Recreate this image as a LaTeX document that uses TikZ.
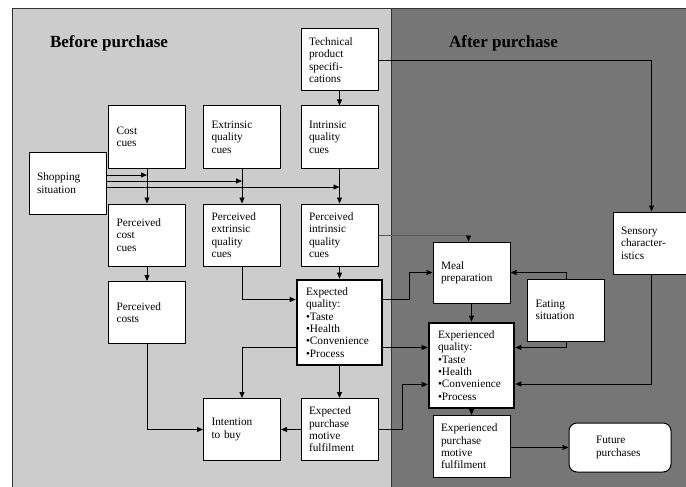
\documentclass[tikz,border=0pt]{standalone}
\usepackage{fontspec}
\setmainfont{Liberation Serif}
\usepackage{xcolor}
\usetikzlibrary{positioning,arrows.meta}
\definecolor{mbefore}{RGB}{204,204,204}
\definecolor{mafter}{RGB}{118,118,118}

\begin{document}
\begin{tikzpicture}[x=1pt, y=-1pt,
  box/.style={rectangle, draw, fill=white, line width=1pt, font=\fontsize{11.3}{12.4}\selectfont, align=left, text width=61pt, inner xsep=8pt, inner ysep=0pt, minimum width=77pt, minimum height=62pt},
  thickbox/.style={box, line width=2.6pt, minimum width=85pt, minimum height=85pt, text width=67pt},
  conn/.style={line width=0.9pt, -{Triangle[length=6pt,width=5pt]}}]
\useasboundingbox (0,0) rectangle (686,487);
\clip (0,0) rectangle (686,487);
% Fundo: antes e depois da compra
\fill[mbefore] (12,8) rectangle (391,495);
\fill[mafter] (391,8) rectangle (700,495);
\draw[line width=0.8pt, black!80] (700,8) -- (12,8) -- (12,495);
\draw[line width=0.8pt, black!80] (391,8) -- (391,495);
\node[font=\fontsize{17}{20}\selectfont\bfseries] (hbefore) at (109,43) {Before purchase};
\node[font=\fontsize{17}{20}\selectfont\bfseries] (hafter) at (503.5,43) {After purchase};
% Caixas antes da compra
\node[box] (tech) at (339.5,60) {Technical\\product\\specifi-\\cations};
\node[box] (cost) at (147,137) {Cost\\cues};
\node[box] (extr) at (242,137) {Extrinsic\\quality\\cues};
\node[box] (intr) at (339.5,137) {Intrinsic\\quality\\cues};
\node[box] (shop) at (67.5,183) {Shopping\\situation};
\node[box] (pcost) at (147,235) {Perceived\\cost\\cues};
\node[box] (pextr) at (242,235) {Perceived\\extrinsic\\quality\\cues};
\node[box] (pintr) at (339.5,235) {Perceived\\intrinsic\\quality\\cues};
\node[box] (costs) at (147,312.5) {Perceived\\costs};
\node[thickbox] (expq) at (339.5,322.5) {Expected\\quality:\\•Taste\\•Health\\•Convenience\\•Process};
\node[box] (intent) at (242,429.5) {Intention\\to buy};
\node[box] (expm) at (339.5,429.5) {Expected\\purchase\\motive\\fulfilment};
% Caixas depois da compra
\node[box, minimum height=61pt] (meal) at (471.5,272.5) {Meal\\preparation};
\node[box] (eat) at (566,310) {Eating\\situation};
\node[thickbox] (expdq) at (471.5,365.5) {Experienced\\quality:\\•Taste\\•Health\\•Convenience\\•Process};
\node[box] (expdm) at (471.5,446.5) {Experienced\\purchase\\motive\\fulfilment};
\node[box, rounded corners=8pt, minimum width=102pt, minimum height=49pt, text width=48pt] (future) at (620,447.5) {Future\\purchases};
\node[box] (sens) at (651.5,243) {Sensory\\character-\\istics};
% Situação de compra (três linhas)
\coordinate (s1) at ([yshift=8pt]shop.east);
\coordinate (s2) at ([yshift=2pt]shop.east);
\coordinate (s3) at ([yshift=-4pt]shop.east);
\draw[conn] (s1) -- (s1 -| cost.south);
\draw[conn] (s2) -- (s2 -| extr.south);
\draw[conn] (s3) -- (s3 -| intr.south);
% Setas verticais
\draw[conn] (tech) -- (intr);
\draw[conn] (cost) -- (pcost);
\draw[conn] (extr) -- (pextr);
\draw[conn] (intr) -- (pintr);
\draw[conn] (pcost) -- (costs);
\draw[conn] (pintr) -- (expq);
\draw[conn] (expq) -- (expm);
\draw[conn] (meal) -- (expdq);
\draw[conn] (expdq) -- (expdm);
% Setas com cotovelo
\draw[conn] (tech.east) -| (sens.north);
\draw[conn] (pextr.south) |- ([yshift=23pt]expq.west);
\draw[conn] (costs.south) |- (intent.west);
\draw[conn] ([yshift=-25pt]expq.west) -| (intent.north);
\draw[conn] (expm) -- (intent);
\draw[line width=0.5pt, draw=black!65, -{Triangle[length=6pt,width=5pt,color=black]}] (pintr.east) -| ([xshift=-3pt]meal.north);
\draw[conn] ([yshift=23pt]expq.east) -- ++(26,0) |- (meal.west);
\coordinate (q1) at ([yshift=-25pt]expq.east);
\draw[conn] (q1) -- (q1 -| expdq.west);
\draw[conn] (expm.east) -- ++(24,0) |- ([yshift=-19pt]expdq.west);
\draw[conn] (eat.north) |- (meal.east);
\draw[conn] (eat.south) |- ([yshift=18pt]expdq.east);
\draw[conn] (sens.south) |- ([yshift=-18.5pt]expdq.east);
\draw[conn] (expdm.east |- future.west) -- (future.west);
\end{tikzpicture}
\end{document}
